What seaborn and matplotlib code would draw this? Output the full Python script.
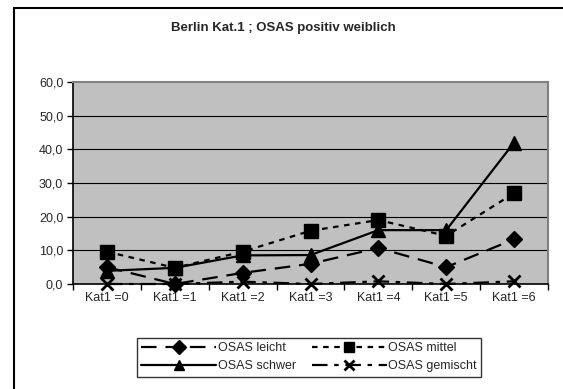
import matplotlib
matplotlib.use("Agg")
import matplotlib.pyplot as plt
import seaborn as sns
import pandas as pd
from matplotlib.lines import Line2D

categories = ["Kat1 =0", "Kat1 =1", "Kat1 =2", "Kat1 =3", "Kat1 =4", "Kat1 =5", "Kat1 =6"]
osas_leicht = [5.0, 0.0, 3.3, 6.0, 10.7, 5.0, 13.3]
osas_mittel = [9.6, 4.8, 9.6, 15.8, 19.0, 14.3, 27.0]
osas_schwer = [3.9, 4.8, 8.5, 8.6, 16.0, 16.0, 42.0]
osas_gemischt = [0.0, 0.0, 0.7, 0.0, 0.8, 0.0, 0.8]
series_names = ["OSAS leicht", "OSAS mittel", "OSAS schwer", "OSAS gemischt"]
yticks = [0, 10, 20, 30, 40, 50, 60]
title = "Berlin Kat.1 ; OSAS positiv weiblich"

sns.set_theme(style="white")
plt.rcParams['font.family'] = ['Liberation Sans', 'DejaVu Sans']

fig = plt.figure(figsize=(5.63, 3.89), dpi=100)
ax = fig.add_axes([73/563, 1-284/389, (548-73)/563, (284-82)/389])
ax.set_facecolor("#C0C0C0")

styles = {
    "OSAS leicht": dict(marker="D", linestyle=(0, (7, 4)), markersize=8.5),
    "OSAS mittel": dict(marker="s", linestyle=(0, (2.5, 2.5)), markersize=9.5),
    "OSAS schwer": dict(marker="^", linestyle="-", markersize=9.5),
    "OSAS gemischt": dict(marker="x", linestyle=(0, (7, 3, 2, 3)), markersize=9, markeredgewidth=2),
}
data = [osas_leicht, osas_mittel, osas_schwer, osas_gemischt]
for name, vals in zip(series_names, data):
    df = pd.DataFrame({"cat": categories, "val": vals})
    st = styles[name]
    sns.lineplot(data=df, x="cat", y="val", ax=ax, color="black", linewidth=1.6,
                 marker=st["marker"], linestyle=st["linestyle"], markersize=st["markersize"],
                 markeredgecolor="black", markerfacecolor="black",
                 markeredgewidth=st.get("markeredgewidth", 1), label=name,
                 legend=False, clip_on=False, zorder=3)

ax.set_xlim(-0.5, 6.5)
ax.set_ylim(0, 60)
ax.set_yticks(yticks)
ax.set_yticklabels([f"{v:.1f}".replace(".", ",") for v in yticks], fontsize=9)
ax.set_xticks(range(len(categories)))
ax.set_xticklabels(categories, fontsize=9)
ax.set_xticks([i - 0.5 for i in range(len(categories) + 1)], minor=True)
ax.tick_params(axis="x", which="major", length=0, pad=6)
ax.tick_params(axis="x", which="minor", length=4, width=1, color="black", direction="out", bottom=True)
ax.tick_params(axis="y", length=4, width=1, color="black", direction="out", left=True, pad=3)
ax.set_xlabel("")
ax.set_ylabel("")
ax.grid(False)
for y in yticks[1:-1]:
    ax.axhline(y, color="black", linewidth=0.8, zorder=1)
for s in ["left", "bottom"]:
    ax.spines[s].set_color("black")
    ax.spines[s].set_linewidth(1.2)
for s in ["top", "right"]:
    ax.spines[s].set_color("#808080")
    ax.spines[s].set_linewidth(1.5)

fig.text(283/563, 1-28/389, title, ha="center", va="center", fontsize=9.5, fontweight="bold")

# outer chart border
fig.add_artist(Line2D([14/563, 14/563], [0, 1-8/389], color="black", linewidth=1.5, transform=fig.transFigure))
fig.add_artist(Line2D([14/563, 1], [1-8/389, 1-8/389], color="black", linewidth=1.5, transform=fig.transFigure))

handles = {}
for name in series_names:
    st = styles[name]
    handles[name] = Line2D([], [], color="black", linewidth=1.6, linestyle=st["linestyle"],
                           marker=st["marker"], markersize=st["markersize"] * 0.8,
                           markerfacecolor="black", markeredgecolor="black",
                           markeredgewidth=st.get("markeredgewidth", 1))
order = ["OSAS leicht", "OSAS schwer", "OSAS mittel", "OSAS gemischt"]
leg = fig.legend([handles[n] for n in order], order,
                 ncol=2, loc="center", bbox_to_anchor=(309/563, 1-357/389),
                 fontsize=9, frameon=True, fancybox=False, edgecolor="black",
                 handlelength=6.0, handletextpad=0.1, columnspacing=1.3,
                 labelspacing=0.5, borderpad=0.35, markerscale=1)
leg.get_frame().set_linewidth(1.0)

fig.savefig("out.png", dpi=100)
